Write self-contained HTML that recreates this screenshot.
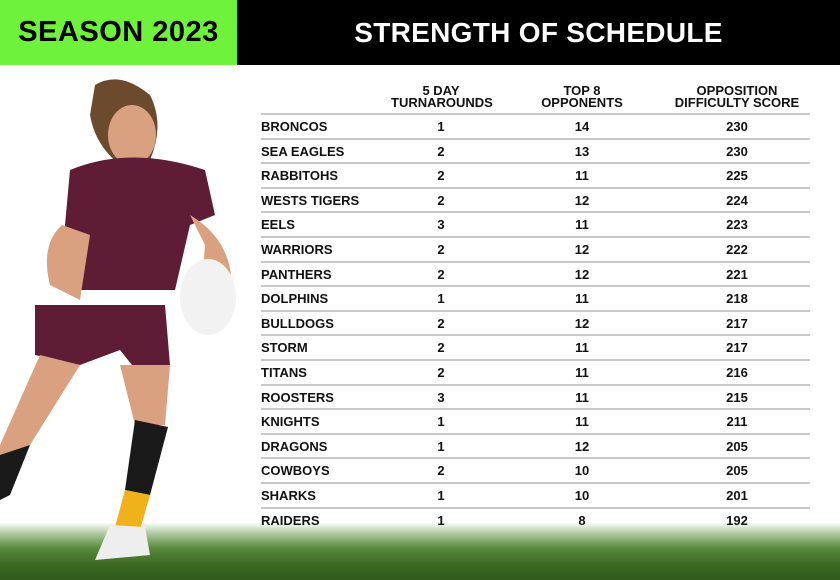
<!DOCTYPE html>
<html><head><style>
*{margin:0;padding:0;box-sizing:border-box}
body{width:840px;height:580px;overflow:hidden;background:#fff;font-family:"Liberation Sans",Arial,sans-serif;position:relative}
.hdr{position:absolute;top:0;left:0;width:840px;height:65px;background:#000}
.grn{position:absolute;top:0;left:0;width:237px;height:65px;background:#6ef23c;color:#000;font-weight:bold;font-size:29px;line-height:65px;text-align:center;letter-spacing:0.5px}
.ttl{position:absolute;top:0;left:237px;width:603px;height:65px;color:#fff;font-weight:bold;font-size:28px;line-height:66px;text-align:center;letter-spacing:0.3px}
.grass{position:absolute;left:0;top:500px;width:840px;height:80px;background:linear-gradient(#fff 0,#fff 28%,#b9d0aa 40%,#5a8a3c 60%,#3c6a25 80%,#2f5a1c 100%)}
.th{position:absolute;font-weight:bold;font-size:13px;line-height:12px;text-align:center;color:#111}
.row{position:absolute;left:261px;width:549px;height:24.6px;border-top:2px solid #c8c8c8;font-weight:bold;font-size:13px;color:#111}
.row span{position:absolute;top:4px}
.c1{left:0}.c2{left:160px;width:40px;text-align:center}.c3{left:301px;width:40px;text-align:center}.c4{left:456px;width:40px;text-align:center}
</style></head><body>
<div class="grass"></div>
<div class="hdr"></div>
<div class="grn">SEASON 2023</div>
<div class="ttl">STRENGTH OF SCHEDULE</div>
<svg style="position:absolute;left:0;top:75px" width="250" height="495">
<path d="M95 10 Q120 -5 150 20 Q165 50 150 85 L120 90 Q95 70 90 40Z" fill="#6b4a2e"/>
<ellipse cx="132" cy="60" rx="24" ry="30" fill="#d9a17f"/>
<path d="M70 95 Q130 70 205 95 L215 140 L190 150 L175 215 L75 215 L65 150Z" fill="#5e1d35"/>
<path d="M62 150 Q40 170 50 210 L80 225 L90 160Z" fill="#d9a17f"/>
<path d="M190 140 Q240 170 230 230 L200 240 L205 170Z" fill="#d9a17f"/>
<ellipse cx="208" cy="222" rx="28" ry="38" fill="#f2f2f2"/>
<path d="M35 230 L165 230 L170 290 L140 300 L120 275 L80 290 L35 280Z" fill="#5e1d35"/>
<path d="M40 280 L80 290 L30 370 L0 420 L0 370Z" fill="#d9a17f"/>
<path d="M120 290 L170 290 L165 350 L135 350Z" fill="#d9a17f"/>
<path d="M135 345 L168 352 L150 420 L125 415Z" fill="#1a1a1a"/>
<path d="M125 415 L150 420 L140 455 L115 452Z" fill="#f0b21a"/>
<path d="M110 450 L145 452 L150 480 L95 485Z" fill="#eee"/>
<path d="M0 380 L30 370 L10 420 L0 425Z" fill="#1a1a1a"/>
</svg>
<div class="th" style="left:391px;top:85px;width:100px">5 DAY<br>TURNAROUNDS</div>
<div class="th" style="left:532px;top:85px;width:100px">TOP 8<br>OPPONENTS</div>
<div class="th" style="left:662px;top:85px;width:150px">OPPOSITION<br>DIFFICULTY SCORE</div>
<div style="position:absolute;top:0">
<div class="row" style="top:113px"><span class="c1">BRONCOS</span><span class="c2">1</span><span class="c3">14</span><span class="c4">230</span></div>
<div class="row" style="top:137.6px"><span class="c1">SEA EAGLES</span><span class="c2">2</span><span class="c3">13</span><span class="c4">230</span></div>
<div class="row" style="top:162.2px"><span class="c1">RABBITOHS</span><span class="c2">2</span><span class="c3">11</span><span class="c4">225</span></div>
<div class="row" style="top:186.8px"><span class="c1">WESTS TIGERS</span><span class="c2">2</span><span class="c3">12</span><span class="c4">224</span></div>
<div class="row" style="top:211.4px"><span class="c1">EELS</span><span class="c2">3</span><span class="c3">11</span><span class="c4">223</span></div>
<div class="row" style="top:236px"><span class="c1">WARRIORS</span><span class="c2">2</span><span class="c3">12</span><span class="c4">222</span></div>
<div class="row" style="top:260.6px"><span class="c1">PANTHERS</span><span class="c2">2</span><span class="c3">12</span><span class="c4">221</span></div>
<div class="row" style="top:285.2px"><span class="c1">DOLPHINS</span><span class="c2">1</span><span class="c3">11</span><span class="c4">218</span></div>
<div class="row" style="top:309.8px"><span class="c1">BULLDOGS</span><span class="c2">2</span><span class="c3">12</span><span class="c4">217</span></div>
<div class="row" style="top:334.4px"><span class="c1">STORM</span><span class="c2">2</span><span class="c3">11</span><span class="c4">217</span></div>
<div class="row" style="top:359px"><span class="c1">TITANS</span><span class="c2">2</span><span class="c3">11</span><span class="c4">216</span></div>
<div class="row" style="top:383.6px"><span class="c1">ROOSTERS</span><span class="c2">3</span><span class="c3">11</span><span class="c4">215</span></div>
<div class="row" style="top:408.2px"><span class="c1">KNIGHTS</span><span class="c2">1</span><span class="c3">11</span><span class="c4">211</span></div>
<div class="row" style="top:432.8px"><span class="c1">DRAGONS</span><span class="c2">1</span><span class="c3">12</span><span class="c4">205</span></div>
<div class="row" style="top:457.4px"><span class="c1">COWBOYS</span><span class="c2">2</span><span class="c3">10</span><span class="c4">205</span></div>
<div class="row" style="top:482px"><span class="c1">SHARKS</span><span class="c2">1</span><span class="c3">10</span><span class="c4">201</span></div>
<div class="row" style="top:506.6px"><span class="c1">RAIDERS</span><span class="c2">1</span><span class="c3">8</span><span class="c4">192</span></div>
</div>
</body></html>
